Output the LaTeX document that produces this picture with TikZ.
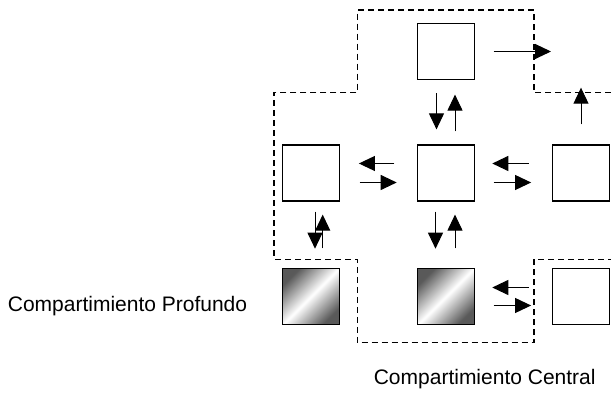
\documentclass[tikz,border=0pt]{standalone}
\usepackage{fontspec}
\setmainfont{Liberation Sans}
\usetikzlibrary{arrows.meta}

\begin{document}
\begin{tikzpicture}[x=1pt, y=1pt,
    comp/.style={draw, line width=1.2pt, minimum width=57pt, minimum height=56pt, inner sep=0pt},
    deep/.style={comp, shading=axis, top color=black!65, bottom color=black!65, middle color=white, shading angle=45},
    flow/.style={line width=1pt, -{Triangle[length=16pt, width=15pt]}},
    bound/.style={line width=1.2pt, dash pattern=on 6pt off 4pt},
    lbl/.style={anchor=base, font=\fontsize{21}{25}\selectfont}]
    \useasboundingbox (0,0) rectangle (611,393);

    \draw[bound] (611,300.3) -- (534,300.3) -- (534,383) -- (357.3,383) -- (357.3,300.3)
        -- (274,300.3) -- (274,133.7) -- (357.3,133.7) -- (357.3,50.3) -- (534,50.3)
        -- (534,133.7) -- (611,133.7);

    \node[comp] at (446, 341.5) (t1) {};
    \node[comp] at (311, 220) (l1) {};
    \node[comp] at (446, 220) (c1) {};
    \node[comp] at (581, 220) (r1) {};
    \node[deep] at (311, 96.5) (l2) {};
    \node[deep] at (446, 96.5) (c2) {};
    \node[comp] at (581, 96.5) (r2) {};

    \coordinate (t1out) at (551, 341.5);
    \coordinate (r1out) at (581, 305.3);

    \node[lbl] at (127.5, 81.5) (deeplbl) {Compartimiento Profundo};
    \node[lbl] at (484.7, 8) (centlbl) {Compartimiento Central};

    \draw[flow, shorten <=18.5pt] (t1.east) -- (t1out);
    \draw[flow, shorten <=20pt] (r1.north) -- (r1out);

    \draw[flow, shorten <=13pt, shorten >=15pt] ([xshift=-9.5pt]t1.south) -- ([xshift=-9.5pt]c1.north);
    \draw[flow, shorten <=13pt, shorten >=14.5pt] ([xshift=9pt]c1.north) -- ([xshift=9pt]t1.south);

    \draw[flow, shorten <=22.5pt, shorten >=18.8pt] ([yshift=9.5pt]c1.west) -- ([yshift=9.5pt]l1.east);
    \draw[flow, shorten <=19.5pt, shorten >=20.2pt] ([yshift=-9.5pt]l1.east) -- ([yshift=-9.5pt]c1.west);

    \draw[flow, shorten <=23.2pt, shorten >=17.2pt] ([yshift=9.5pt]r1.west) -- ([yshift=9.5pt]c1.east);
    \draw[flow, shorten <=18.5pt, shorten >=20.8pt] ([yshift=-9.5pt]c1.east) -- ([yshift=-9.5pt]r1.west);

    \draw[flow, shorten <=10pt, shorten >=19.2pt] ([xshift=4pt]l1.south) -- ([xshift=4pt]l2.north);
    \draw[flow, shorten <=19.5pt, shorten >=13pt] ([xshift=11.7pt]l2.north) -- ([xshift=11.7pt]l1.south);

    \draw[flow, shorten <=10pt, shorten >=19.2pt] ([xshift=-10.5pt]c1.south) -- ([xshift=-10.5pt]c2.north);
    \draw[flow, shorten <=19.5pt, shorten >=13pt] ([xshift=9pt]c2.north) -- ([xshift=9pt]c1.south);

    \draw[flow, shorten <=23.2pt, shorten >=17.2pt] ([yshift=9pt]r2.west) -- ([yshift=9pt]c2.east);
    \draw[flow, shorten <=18.5pt, shorten >=20.8pt] ([yshift=-9pt]c2.east) -- ([yshift=-9pt]r2.west);
\end{tikzpicture}
\end{document}
